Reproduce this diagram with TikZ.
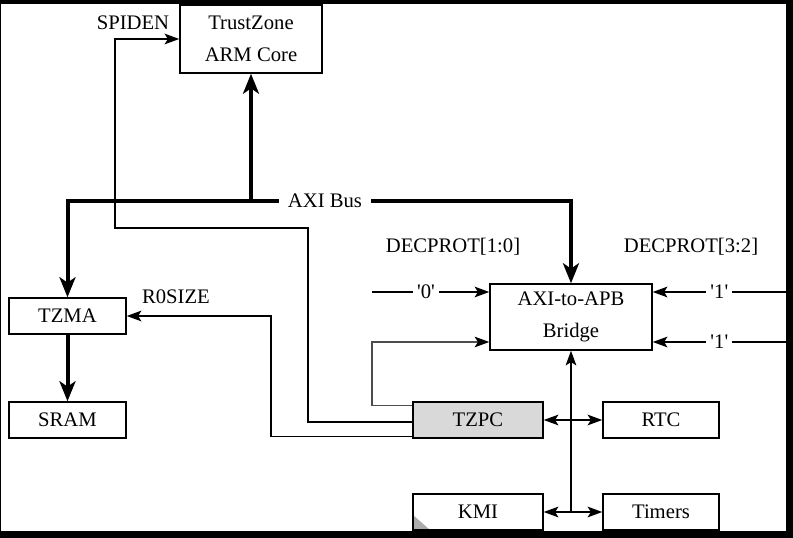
\documentclass[tikz,border=0pt]{standalone}
\usepackage{fontspec}
\setmainfont{Liberation Serif}
\usetikzlibrary{arrows.meta,positioning,calc}

\begin{document}
\begin{tikzpicture}[
    x=0.75pt, y=-0.75pt,
    font=\fontsize{15.5}{24}\selectfont,
    box/.style={rectangle, draw, line width=1.1pt, align=center, inner sep=0pt, minimum height=27pt},
    arrow/.style={-{Stealth[length=11pt, width=8pt, inset=2.5pt, color=black]}, line width=1.1pt},
    dblarrow/.style={{Stealth[length=11pt, width=8pt, inset=2.5pt]}-{Stealth[length=11pt, width=8pt, inset=2.5pt]}, line width=1.1pt},
    bus/.style={-{Stealth[length=15pt, width=12pt, inset=4pt]}, line width=3pt},
    lbl/.style={inner sep=0pt}
]

% Frame
\fill[black] (0,0) rectangle (793,538);
\fill[white] (1,4) rectangle (786,531);

% Core and bridge
\node[box, minimum width=106.5pt, minimum height=51pt] (core) at (251,39) {TrustZone\\ARM Core};
\node[box, minimum width=121.5pt, minimum height=49.5pt] (bridge) at (571,317) {AXI-to-APB\\Bridge};

% Memory side
\node[box, minimum width=87.75pt] (tzma) at (67.5,316) {TZMA};
\node[box, minimum width=87.75pt] (sram) at (67.5,420) {SRAM};

% Peripherals
\node[box, fill=gray!30, minimum width=97.5pt] (tzpc) at (478,420) {TZPC};
\node[box, minimum width=87pt] (rtc) at (661,420) {RTC};
\node[box, minimum width=97.5pt,
      path picture={\fill[gray!65] (path picture bounding box.south west) -- ++(0pt,11.25pt) -- ++(12.75pt,-11.25pt) -- cycle;}] (kmi) at (478,512) {KMI};
\node[box, minimum width=87pt] (timers) at (661,512) {Timers};

% Labels
\node[lbl] (spiden) at (133,23) {SPIDEN};
\node[lbl] (r0size) at (176,297) {R0SIZE};
\node[lbl] (dec10) at (453,247) {DECPROT[1:0]};
\node[lbl] (dec32) at (691,247) {DECPROT[3:2]};
\node[lbl, inner xsep=6.75pt] (axi) at (325,201) {AXI Bus};

% AXI bus
\draw[bus] (axi.west) -| (tzma.north);
\draw[bus] (axi.east) -| (bridge.north);
\draw[bus] (core.south |- axi.west) -- (core.south);
\draw[bus] (tzma) -- (sram);

% Control signals from TZPC
\draw[arrow] ($(tzpc.west)+(0,2)$) -| (308,228) -- (115,228) |- (core.west);
\draw[arrow] ($(tzpc.south west)+(0,-2)$) -| (271,316) -- (tzma.east);
\draw[arrow, draw=black!70, line width=0.9pt] ($(tzpc.north west)+(0,4)$) -| (372,342) -- ($(bridge.west)+(0,25)$);

% DECPROT inputs
\coordinate (d10) at (372,292);
\coordinate (d32a) at (786,292);
\coordinate (d32b) at (786,342);
\draw[arrow] (d10) -- node[pos=0.46, lbl, fill=white, inner xsep=3pt]{\textquotesingle 0\textquotesingle} (d10 -| bridge.west);
\draw[arrow] (d32a) -- node[lbl, fill=white, inner xsep=3pt]{\textquotesingle 1\textquotesingle} (d32a -| bridge.east);
\draw[arrow] (d32b) -- node[lbl, fill=white, inner xsep=3pt]{\textquotesingle 1\textquotesingle} (d32b -| bridge.east);

% APB
\coordinate (jn) at (bridge.south |- kmi.east);
\draw[arrow] (jn) -- (bridge.south);
\draw[dblarrow] (tzpc.east) -- (rtc.west);
\draw[dblarrow] (kmi.east) -- (timers.west);

\end{tikzpicture}
\end{document}
